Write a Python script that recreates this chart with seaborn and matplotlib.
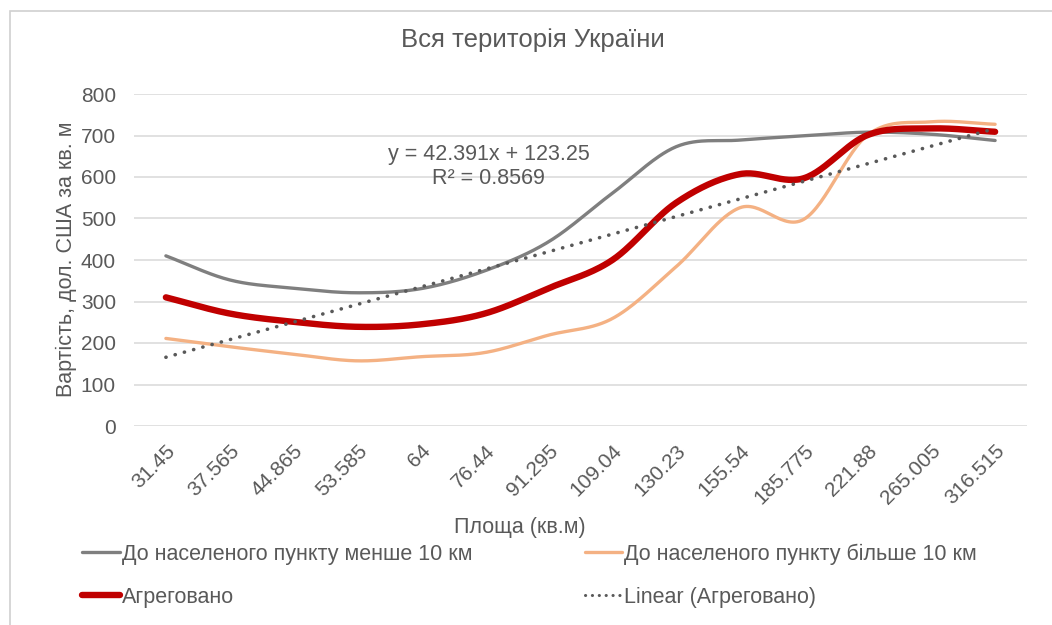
import numpy as np
import pandas as pd
import seaborn as sns
import matplotlib
matplotlib.use("Agg")
import matplotlib.pyplot as plt
from matplotlib.lines import Line2D
from matplotlib.patches import Rectangle
from matplotlib.transforms import ScaledTranslation

# ---- data -------------------------------------------------------------
areas = ["31.45", "37.565", "44.865", "53.585", "64", "76.44", "91.295",
         "109.04", "130.23", "155.54", "185.775", "221.88", "265.005", "316.515"]

near_10km = [410, 352, 332, 321, 331, 374, 444, 561, 673, 689, 699, 708, 703, 688]
far_10km = [211, 191, 173, 157, 167, 177, 219, 259, 384, 526, 498, 701, 733, 727]
aggregated = [310, 271, 251, 239, 245, 271, 332, 400, 538, 607, 597, 701, 717, 709]

trend_slope = 42.391
trend_intercept = 123.25
trend_r2 = 0.8569

name_near = "До населеного пункту менше 10 км"
name_far = "До населеного пункту більше 10 км"
name_agg = "Агреговано"
name_trend = "Linear (Агреговано)"

TEXT = "#595959"
colors = {name_near: "#7f7f7f", name_far: "#f4b183", name_agg: "#c00000"}
widths = {name_near: 2.4, name_far: 2.4, name_agg: 4.6}


def smooth(values, steps=30):
    """Catmull-Rom smoothing through every point (spreadsheet-style smoothed line)."""
    y = np.asarray(values, dtype=float)
    n = len(y)
    p = np.concatenate([[2 * y[0] - y[1]], y, [2 * y[-1] - y[-2]]])
    xs, ys = [], []
    for i in range(n - 1):
        p0, p1, p2, p3 = p[i], p[i + 1], p[i + 2], p[i + 3]
        t = np.linspace(0, 1, steps, endpoint=(i == n - 2))
        seg = 0.5 * ((2 * p1) + (-p0 + p2) * t + (2 * p0 - 5 * p1 + 4 * p2 - p3) * t ** 2
                     + (-p0 + 3 * p1 - 3 * p2 + p3) * t ** 3)
        xs.append(i + t)
        ys.append(seg)
    return np.concatenate(xs), np.concatenate(ys)


frames = []
for name, vals in [(name_near, near_10km), (name_far, far_10km), (name_agg, aggregated)]:
    sx, sy = smooth(vals)
    frames.append(pd.DataFrame({"x": sx, "y": sy, "series": name}))
curves = pd.concat(frames, ignore_index=True)

idx = np.arange(len(areas))
trend = pd.DataFrame({"x": idx, "y": trend_slope * (idx + 1) + trend_intercept})

# ---- figure -----------------------------------------------------------
sns.set_theme(style="white")
plt.rcParams["font.family"] = ["Liberation Sans", "DejaVu Sans"]
plt.rcParams["text.color"] = TEXT

fig = plt.figure(figsize=(10.52, 6.25), dpi=100)
ax = fig.add_axes([134 / 1052, 1 - 426 / 625, 893 / 1052, 332 / 625])

# chart-area border
fig.patches.append(Rectangle((10 / 1052, -0.1), 1.2, 1 - 11 / 625 + 0.1,
                             transform=fig.transFigure, fill=False,
                             edgecolor="#d0d0d0", linewidth=1.2))

for name in [name_near, name_far, name_agg]:
    sns.lineplot(data=curves[curves["series"] == name], x="x", y="y", ax=ax,
                 color=colors[name], linewidth=widths[name], sort=False,
                 estimator=None, legend=False, zorder=3 if name == name_agg else 2)
    ax.lines[-1].set_solid_capstyle("round")

sns.lineplot(data=trend, x="x", y="y", ax=ax, color=TEXT, linewidth=2.6,
             legend=False, estimator=None, zorder=4)
trend_line = ax.lines[-1]
trend_line.set_dashes((0.05, 2.6))
trend_line.set_dash_capstyle("round")

ax.set_xlim(-0.5, len(areas) - 0.5)
ax.set_ylim(0, 800)
ax.set_yticks(range(0, 801, 100))
ax.grid(axis="y", color="#d9d9d9", linewidth=1.1)
ax.set_axisbelow(True)
for s in ax.spines.values():
    s.set_visible(False)

ax.set_xticks(idx)
ax.set_xticklabels(areas, rotation=45, ha="right", va="top", rotation_mode="anchor")
offset = ScaledTranslation(3 / 100, 0, fig.dpi_scale_trans)
for lbl in ax.get_xticklabels():
    lbl.set_transform(lbl.get_transform() + offset)
ax.tick_params(axis="x", length=0, pad=11, labelsize=15, labelcolor=TEXT)
ax.tick_params(axis="y", length=0, pad=13, labelsize=15, labelcolor=TEXT)

ax.set_xlabel("Площа (кв.м)", fontsize=15.5, color=TEXT)
ax.xaxis.set_label_coords((520 - 134) / 893, -(527 - 426) / 332)
ax.xaxis.label.set_va("center")
ax.set_ylabel("Вартість, дол. США за кв. м", fontsize=15.5, color=TEXT)
ax.yaxis.set_label_coords((66 - 134) / 893, (426 - 259) / 332)
ax.yaxis.label.set_va("center")

fig.text(533 / 1052, 1 - 40 / 625, "Вся територія України", ha="center", va="center",
         fontsize=18.5, color=TEXT)

ax.text(5.06, 626, f"y = {trend_slope}x + {trend_intercept}\nR² = {trend_r2}",
        ha="center", va="center", multialignment="center", fontsize=15.5,
        color=TEXT, linespacing=1.2)

handles = [
    Line2D([], [], color=colors[name_near], linewidth=widths[name_near]),
    Line2D([], [], color=colors[name_agg], linewidth=widths[name_agg]),
    Line2D([], [], color=colors[name_far], linewidth=widths[name_far]),
    Line2D([], [], color=TEXT, linewidth=2.2, dashes=(0.05, 2.2), dash_capstyle="round"),
]
labels = [name_near, name_agg, name_far, name_trend]
fig.legend(handles, labels, ncol=2, loc="upper left",
           bbox_to_anchor=(63 / 1052, 1 - 524 / 625), frameon=False,
           fontsize=15.5, handlelength=1.75, handletextpad=0.1,
           columnspacing=5.2, labelspacing=1.02, labelcolor=TEXT)

fig.savefig("out.png", dpi=100, facecolor="white")
